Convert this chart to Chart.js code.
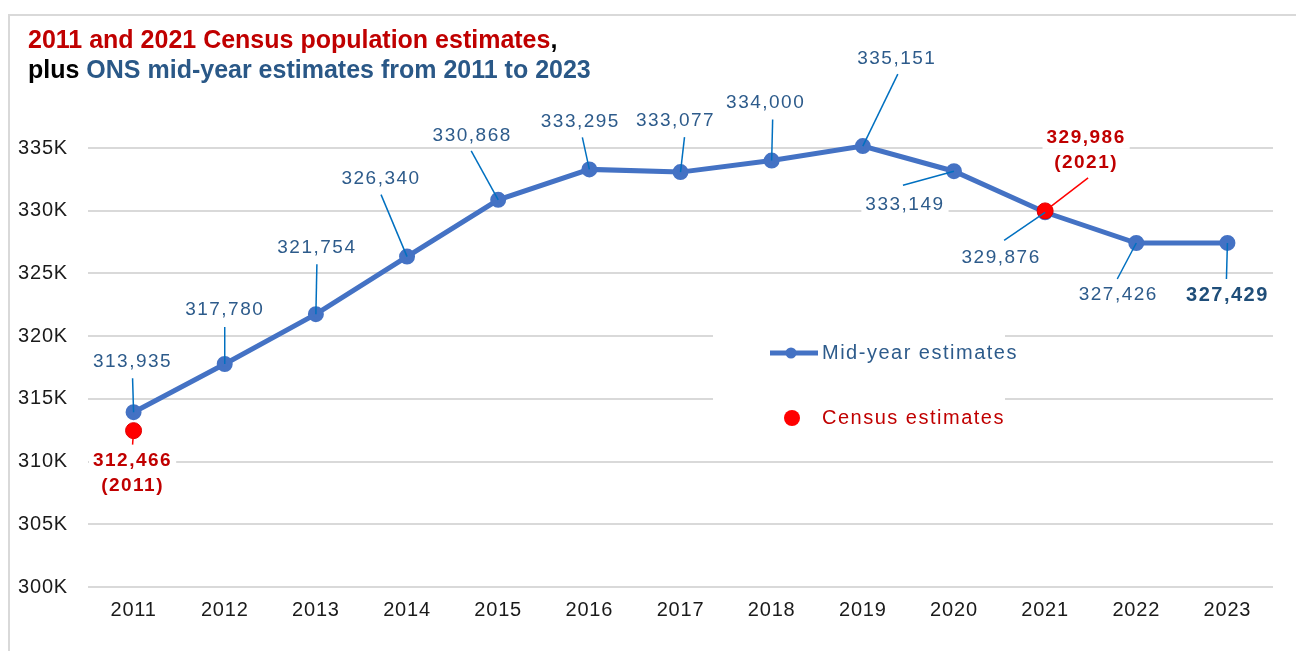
<!DOCTYPE html>
<html>
<head>
<meta charset="utf-8">
<title>Population estimates 2011-2023</title>
<script src="https://cdn.jsdelivr.net/npm/chart.js@4.4.1/dist/chart.umd.min.js"></script>
<style>
  html, body { margin: 0; padding: 0; background: #fff; }
  #wrap { position: relative; width: 1296px; height: 651px; }
</style>
</head>
<body>
<div id="wrap"><canvas id="popChart"></canvas></div>
<script>
// data
const years = ["2011", "2012", "2013", "2014", "2015", "2016", "2017", "2018", "2019", "2020", "2021", "2022", "2023"];
const midYear = [313935, 317780, 321754, 326340, 330868, 333295, 333077, 334000, 335151, 333149, 329876, 327426, 327429];
const census = [312466, null, null, null, null, null, null, null, null, null, 329986, null, null];
const yTicks = [300000, 305000, 310000, 315000, 320000, 325000, 330000, 335000];

const BLUE_LINE = "#4472C4";
const LABEL_BLUE = "#2d5b8b";
const LEADER_BLUE = "#0070C0";
const DARK_RED = "#C00000";
const FONT = "'Liberation Sans', Arial, sans-serif";

// where each mid-year label sits relative to its point (dx/dy = text centre, lx/ly = leader start)
const labelPos = [
  { dx: -1, dy: -50, lx: -1, ly: -34 },
  { dx: 0, dy: -54, lx: 0, ly: -37 },
  { dx: 1, dy: -66, lx: 1, ly: -50 },
  { dx: -26, dy: -78, lx: -26, ly: -62 },
  { dx: -26, dy: -64, lx: -27, ly: -49 },
  { dx: -9, dy: -48, lx: -7, ly: -32 },
  { dx: -5, dy: -51, lx: 4, ly: -35 },
  { dx: -6, dy: -58, lx: 1, ly: -41 },
  { dx: 34, dy: -87, lx: 35, ly: -72 },
  { dx: -49, dy: 34, lx: -51, ly: 14 },
  { dx: -44, dy: 45, lx: -41, ly: 28 },
  { dx: -18, dy: 52, lx: -19, ly: 36 },
  { dx: 0, dy: 53, lx: -1, ly: 36 }
];
const censusPos = {
  0: { dx: -1, dy: 30, lx: -1, ly: 14 },
  10: { dx: 41, dy: -73, lx: 43, ly: -33 }
};

const fmt = v => v.toLocaleString("en-GB");

function drawLabel(ctx, text, x, y, font, color) {
  ctx.font = font;
  const w = ctx.measureText(text).width;
  ctx.fillStyle = "#fff";
  ctx.fillRect(x - w / 2 - 4, y - 11, w + 8, 22);
  ctx.fillStyle = color;
  ctx.fillText(text, x, y);
}

function drawLeader(ctx, x1, y1, x2, y2, color) {
  ctx.strokeStyle = color;
  ctx.lineWidth = 1.5;
  ctx.beginPath();
  ctx.moveTo(x1, y1);
  ctx.lineTo(x2, y2);
  ctx.stroke();
}

// frame, title and legend
const decorations = {
  id: "decorations",
  beforeDraw(chart) {
    const ctx = chart.ctx;
    ctx.save();
    ctx.strokeStyle = "#D9D9D9";
    ctx.lineWidth = 2;
    ctx.strokeRect(9, 15, 1400, 800);

    // two-colour title
    ctx.textBaseline = "alphabetic";
    ctx.textAlign = "left";
    ctx.font = "bold 25px " + FONT;
    const lines = [
      [["2011 and 2021 Census population estimates", DARK_RED], [",", "#000"]],
      [["plus ", "#000"], ["ONS mid-year estimates from 2011 to 2023", "#2a5887"]]
    ];
    lines.forEach((parts, i) => {
      let x = 28;
      const y = 48 + i * 30;
      parts.forEach(([t, c]) => {
        ctx.fillStyle = c;
        ctx.fillText(t, x, y);
        x += ctx.measureText(t).width;
      });
    });
    ctx.restore();
    ctx.letterSpacing = "0.8px";
  },
  beforeDatasetsDraw(chart) {
    const ctx = chart.ctx;
    const a = chart.chartArea;
    const lx = a.left + 625;
    const ty = a.top + 205;
    ctx.save();
    ctx.fillStyle = "#fff";
    ctx.fillRect(lx, ty - 30, 292, 120);

    ctx.strokeStyle = BLUE_LINE;
    ctx.lineWidth = 5;
    ctx.beginPath();
    ctx.moveTo(lx + 57, ty);
    ctx.lineTo(lx + 105, ty);
    ctx.stroke();
    ctx.fillStyle = BLUE_LINE;
    ctx.beginPath();
    ctx.arc(lx + 78, ty, 5.5, 0, Math.PI * 2);
    ctx.fill();

    ctx.fillStyle = "#FF0000";
    ctx.beginPath();
    ctx.arc(lx + 79, ty + 65, 8, 0, Math.PI * 2);
    ctx.fill();

    ctx.letterSpacing = "1.5px";
    ctx.font = "20px " + FONT;
    ctx.textAlign = "left";
    ctx.textBaseline = "middle";
    ctx.fillStyle = LABEL_BLUE;
    ctx.fillText("Mid-year estimates", lx + 109, ty);
    ctx.fillStyle = DARK_RED;
    ctx.fillText("Census estimates", lx + 109, ty + 65);
    ctx.restore();
  },
  afterDatasetsDraw(chart) {
    const ctx = chart.ctx;
    ctx.save();
    ctx.textAlign = "center";
    ctx.textBaseline = "middle";
    ctx.letterSpacing = "1.5px";

    const mid = chart.getDatasetMeta(1).data;
    mid.forEach((pt, i) => {
      const p = labelPos[i];
      const last = i === midYear.length - 1;
      const font = (last ? "bold 20px " : "19px ") + FONT;
      drawLabel(ctx, fmt(midYear[i]), pt.x + p.dx, pt.y + p.dy, font, last ? "#1f4e79" : LABEL_BLUE);
      drawLeader(ctx, pt.x + p.lx, pt.y + p.ly, pt.x, pt.y, LEADER_BLUE);
    });

    const cen = chart.getDatasetMeta(0).data;
    Object.keys(censusPos).forEach(k => {
      const i = Number(k);
      const pt = cen[i];
      const p = censusPos[i];
      const font = "bold 19px " + FONT;
      drawLabel(ctx, fmt(census[i]), pt.x + p.dx, pt.y + p.dy, font, DARK_RED);
      drawLabel(ctx, "(" + years[i] + ")", pt.x + p.dx, pt.y + p.dy + 25, font, DARK_RED);
      drawLeader(ctx, pt.x + p.lx, pt.y + p.ly, pt.x, pt.y, "#FF0000");
    });
    ctx.restore();
  }
};

new Chart(document.getElementById("popChart"), {
  type: "line",
  data: {
    labels: years,
    datasets: [
      {
        label: "Census estimates",
        data: census,
        showLine: false,
        pointRadius: 8,
        pointHoverRadius: 8,
        pointBackgroundColor: "#FF0000",
        pointBorderColor: "#E00000",
        pointBorderWidth: 1,
        order: 0,
        clip: false
      },
      {
        label: "Mid-year estimates",
        data: midYear,
        borderColor: BLUE_LINE,
        borderWidth: 5,
        pointRadius: 5.5,
        pointHoverRadius: 5.5,
        pointBackgroundColor: BLUE_LINE,
        pointBorderColor: BLUE_LINE,
        tension: 0,
        order: 1,
        clip: false
      }
    ]
  },
  options: {
    responsive: true,
    maintainAspectRatio: false,
    animation: false,
    layout: {
      padding: { top: 148, left: 9, right: 23, bottom: 14 }
    },
    scales: {
      x: {
        offset: true,
        grid: { display: false, drawTicks: false },
        border: { display: false },
        ticks: {
          padding: 11,
          color: "#1a1a1a",
          font: { family: FONT, size: 20 }
        },
        afterFit: s => { s.height = 50; }
      },
      y: {
        min: 300000,
        max: 335000,
        grid: { color: "#D9D9D9", lineWidth: 2, drawTicks: false },
        border: { display: false },
        afterBuildTicks: s => { s.ticks = yTicks.map(v => ({ value: v })); },
        ticks: {
          padding: 20,
          color: "#1a1a1a",
          font: { family: FONT, size: 20 },
          callback: v => (v / 1000) + "K"
        },
        afterFit: s => { s.width = 79; }
      }
    },
    plugins: {
      legend: { display: false },
      tooltip: { enabled: false }
    }
  },
  plugins: [decorations]
});
</script>
</body>
</html>
